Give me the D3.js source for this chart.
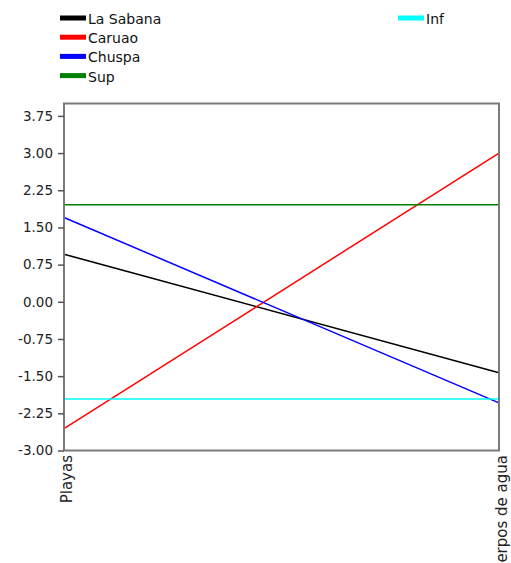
<!DOCTYPE html>
<html><head><meta charset="utf-8">
<script src="https://cdn.jsdelivr.net/npm/d3@7"></script>
<style>body{margin:0;background:#fff}svg{display:block}text{font-family:"DejaVu Sans",sans-serif}</style>
</head><body><svg id="c" width="511" height="563"></svg>
<script>
const categories = ["Playas", "Cuerpos de agua"];
const seriesNames = ["La Sabana", "Caruao", "Chuspa", "Sup", "Inf"];
const laSabana = [0.96, -1.43];
const caruao = [-2.56, 3.0];
const chuspa = [1.70, -2.04];
const sup = [1.96, 1.96];
const inf = [-1.96, -1.96];
const yTicks = [-3.00, -2.25, -1.50, -0.75, 0.00, 0.75, 1.50, 2.25, 3.00, 3.75];
const colors = ["#000000", "#ff0000", "#0000ff", "#008000", "#00ffff"];

(function () {
const series = [laSabana, caruao, chuspa, sup, inf];
const svg = d3.select("#c");
const pL = 64, pR = 499, pT = 103.5, pB = 450.5;
const x = d3.scalePoint().domain(categories).range([pL, pR]);
const y = d3.scaleLinear().domain([-3, 4]).range([pB, pT]);

const line = d3.line().x((d, i) => x(categories[i])).y(d => y(d));
series.forEach((s, i) => {
  svg.append("path").datum(s).attr("d", line).attr("fill", "none")
    .attr("stroke", colors[i]).attr("stroke-width", 1.5);
});

svg.append("rect").attr("x", pL).attr("y", pT).attr("width", pR - pL).attr("height", pB - pT)
  .attr("fill", "none").attr("stroke", "#7a7a7a").attr("stroke-width", 2);

const fmt = d => d.toFixed(2);
const yAxis = d3.axisLeft(y).tickValues(yTicks).tickFormat(fmt).tickSize(6).tickPadding(5);
const ga = svg.append("g").attr("transform", `translate(${pL},0)`).call(yAxis);
ga.select(".domain").remove();
ga.selectAll(".tick line").attr("stroke", "#555").attr("stroke-width", 1.5);
ga.selectAll(".tick text").attr("font-size", 13.5).attr("fill", "#222").attr("font-family", "DejaVu Sans");

const xAxis = d3.axisBottom(x).tickSize(0).tickPadding(0);
const gx = svg.append("g").attr("transform", `translate(0,${pB})`).call(xAxis);
gx.select(".domain").remove();
gx.selectAll(".tick text").attr("font-size", 15).attr("fill", "#222").attr("font-family", "DejaVu Sans")
  .attr("text-anchor", "end").attr("dy", null).attr("y", null)
  .attr("transform", "translate(7,4.5) rotate(-90)");

const legPos = [[60, 18], [60, 37.2], [60, 56.4], [60, 75.6], [398, 18]];
seriesNames.forEach((n, i) => {
  const g = svg.append("g").attr("transform", `translate(${legPos[i][0]},${legPos[i][1]})`);
  g.append("rect").attr("x", 0).attr("y", -2.5).attr("width", 26).attr("height", 5).attr("fill", colors[i]);
  g.append("text").attr("x", 28).attr("y", 6).attr("font-size", 14).attr("fill", "#111").text(n);
});
})();
</script></body></html>
